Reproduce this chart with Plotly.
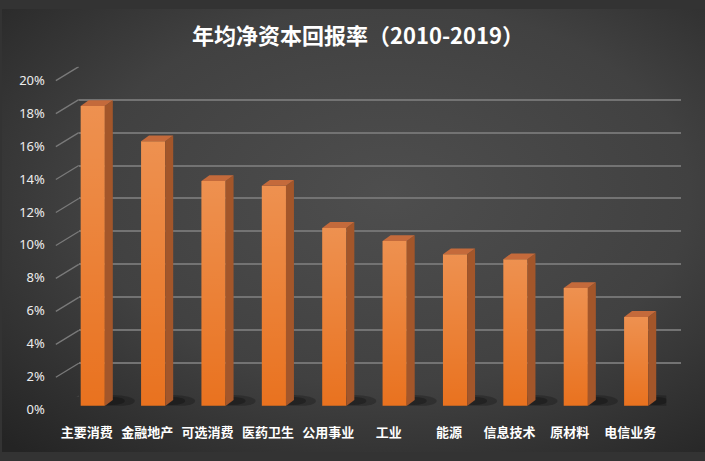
import base64
import plotly.graph_objects as go

# ---------------- data ----------------
categories = ["主要消费", "金融地产", "可选消费", "医药卫生", "公用事业",
              "工业", "能源", "信息技术", "原材料", "电信业务"]
roe_values = [18.2, 16.05, 13.65, 13.35, 10.8, 10.0, 9.2, 8.9, 7.15, 5.4]
y_tick_vals = [0, 2, 4, 6, 8, 10, 12, 14, 16, 18, 20]
y_tick_text = ["0%", "2%", "4%", "6%", "8%", "10%", "12%", "14%", "16%", "18%", "20%"]
title_text = "年均净资本回报率（2010-2019）"

# ---------------- geometry / style ----------------
W, H = 705, 461
BAR_W = 0.4
DEPTH_X = 0.132   # bar depth in category units (~8px)
DEPTH_Y = 0.35    # bar depth in value units (~6px)
FRONT_COLOR = "#E9721F"
SIDE_COLOR = "#A3562A"
TOP_COLOR = "#C46A3B"
GRID_COLOR = "#737373"
idx = list(range(len(categories)))

def px_x(p):
    return p / W

def px_y(p):
    return 1 - p / H

svg = (
    "<svg xmlns='http://www.w3.org/2000/svg' width='705' height='461'>"
    "<defs><radialGradient id='g' cx='0.55' cy='0.42' r='0.78'>"
    "<stop offset='0' stop-color='#4E4E4E'/><stop offset='0.55' stop-color='#414141'/>"
    "<stop offset='1' stop-color='#242424'/></radialGradient></defs>"
    "<rect width='705' height='461' fill='url(#g)'/></svg>"
)
bg_uri = "data:image/svg+xml;base64," + base64.b64encode(svg.encode()).decode()

fig = go.Figure()

# back wall subplot (gridlines only)
fig.add_trace(go.Scatter(x=[], y=[], xaxis="x", yaxis="y", showlegend=False, hoverinfo="skip"))

# front faces of bars
fig.add_trace(go.Bar(
    x=idx, y=roe_values, width=BAR_W, xaxis="x2", yaxis="y2",
    marker=dict(color=FRONT_COLOR, line=dict(width=0)),
    showlegend=False, customdata=categories,
    hovertemplate="%{customdata}: %{y:.2f}%<extra></extra>",
))

# soft highlight gradient on each front face
for i, v in zip(idx, roe_values):
    fig.add_trace(go.Scatter(
        x=[i - BAR_W / 2, i + BAR_W / 2, i + BAR_W / 2, i - BAR_W / 2, i - BAR_W / 2],
        y=[0, 0, v, v, 0], xaxis="x2", yaxis="y2",
        mode="none", fill="toself",
        fillgradient=dict(type="vertical",
                          colorscale=[[0, "rgba(255,255,255,0)"], [1, "rgba(255,255,255,0.22)"]]),
        showlegend=False, hoverinfo="skip",
    ))

# tick label axis subplot
fig.add_trace(go.Scatter(x=[], y=[], xaxis="x3", yaxis="y3", showlegend=False, hoverinfo="skip"))

shapes = []
# floor shadows
for i in idx:
    shapes.append(dict(type="circle", xref="x2", yref="y2", xsizemode="pixel", ysizemode="pixel",
                       xanchor=i + BAR_W / 2, yanchor=0, x0=-14, x1=30, y0=-1, y1=11,
                       fillcolor="rgba(0,0,0,0.22)", line=dict(width=0), layer="below"))
    shapes.append(dict(type="circle", xref="x2", yref="y2", xsizemode="pixel", ysizemode="pixel",
                       xanchor=i + BAR_W / 2, yanchor=0, x0=-6, x1=20, y0=1, y1=9,
                       fillcolor="rgba(0,0,0,0.25)", line=dict(width=0), layer="below"))

# side and top faces
for i, v in zip(idx, roe_values):
    r = i + BAR_W / 2
    l = i - BAR_W / 2
    shapes.append(dict(type="path", xref="x2", yref="y2", layer="above",
                       path=f"M{r},0 L{r + DEPTH_X},{DEPTH_Y} L{r + DEPTH_X},{v + DEPTH_Y} L{r},{v} Z",
                       fillcolor=SIDE_COLOR, line=dict(width=0)))
    shapes.append(dict(type="path", xref="x2", yref="y2", layer="above",
                       path=f"M{l},{v} L{r},{v} L{r + DEPTH_X},{v + DEPTH_Y} L{l + DEPTH_X},{v + DEPTH_Y} Z",
                       fillcolor=TOP_COLOR, line=dict(width=0)))

# slanted tick connectors on the side wall
for t in y_tick_vals:
    shapes.append(dict(type="line", xref="paper", yref="y", ysizemode="pixel", yanchor=t,
                       x0=px_x(54), x1=px_x(77), y0=-14, y1=0,
                       line=dict(color="#7A7A7A", width=1.3), layer="below"))

fig.update_layout(
    width=W, height=H,
    autosize=False,
    margin=dict(l=0, r=0, t=0, b=0),
    paper_bgcolor="#333333",
    plot_bgcolor="rgba(0,0,0,0)",
    showlegend=False,
    shapes=shapes,
    images=[dict(source=bg_uri, xref="paper", yref="paper", x=0, y=1, sizex=1, sizey=1,
                 xanchor="left", yanchor="top", sizing="stretch", layer="below")],
    title=dict(text="<b>" + title_text + "</b>", x=px_x(357), y=px_y(28),
               xanchor="center", yanchor="middle", xref="paper", yref="paper",
               font=dict(family="Noto Sans CJK SC", size=22, color="#FFFFFF")),
    # back wall
    xaxis=dict(domain=[px_x(77), px_x(681)], range=[0, 1], visible=False, fixedrange=True),
    yaxis=dict(domain=[px_y(403), px_y(60)], range=[0, 20], tickvals=y_tick_vals,
               showticklabels=False, ticks="", showgrid=True, gridcolor=GRID_COLOR,
               gridwidth=1.5, zeroline=False, showline=False, fixedrange=True),
    # bars (front plane)
    xaxis2=dict(domain=[px_x(60.75), px_x(666.25)], range=[-0.5, 9.5], anchor="y2",
                tickvals=idx, ticktext=categories, ticks="", showgrid=False, zeroline=False,
                showline=False, ticklabelshift=-6, ticklabelstandoff=17,
                tickfont=dict(family="Noto Sans CJK SC", size=13, color="#FFFFFF", weight="bold"),
                fixedrange=True),
    yaxis2=dict(domain=[px_y(413), px_y(70)], range=[0, 20], anchor="x2", visible=False,
                fixedrange=True),
    # tick labels (front edge of side wall)
    xaxis3=dict(domain=[px_x(54), px_x(58)], range=[0, 1], anchor="y3", visible=False,
                fixedrange=True),
    yaxis3=dict(domain=[px_y(417), px_y(74)], range=[0, 20], anchor="x3", side="left",
                tickvals=y_tick_vals, ticktext=y_tick_text, ticks="", showgrid=False,
                zeroline=False, showline=False, ticklabelstandoff=10,
                tickfont=dict(family="Noto Sans", size=13, color="#EDEDED"), fixedrange=True),
)

fig.write_html(
    "out.html",
    config={"responsive": False, "displayModeBar": False},
    post_script="document.body.style.margin='0';document.body.style.overflow='hidden';",
)
